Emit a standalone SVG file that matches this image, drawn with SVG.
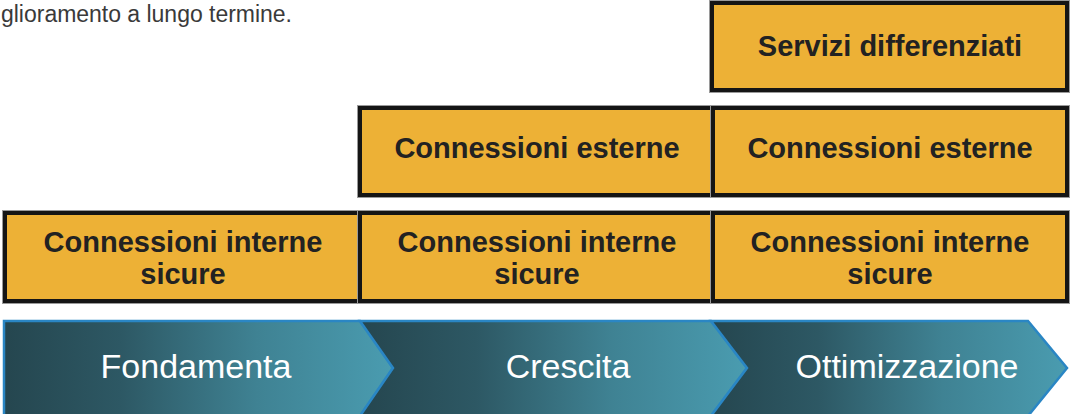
<svg xmlns="http://www.w3.org/2000/svg" width="1070" height="414" viewBox="0 0 1070 414">
  <defs>
    <linearGradient id="g1" x1="0" y1="0" x2="1" y2="0">
      <stop offset="0" stop-color="#25464f"/>
      <stop offset="0.3" stop-color="#2d5864"/>
      <stop offset="0.65" stop-color="#3f8293"/>
      <stop offset="1" stop-color="#4a9cb0"/>
    </linearGradient>
    <style>
      .cell{fill:#edb136;stroke:#151515;stroke-width:4}
      .halo{fill:none;stroke:#9a9a9a;stroke-width:6}
      .lbl{font-family:"Liberation Sans",Arial,sans-serif;font-weight:bold;font-size:29px;fill:#222;text-anchor:middle}
      .chev{fill:url(#g1);stroke:#2a86c4;stroke-width:2.5;stroke-linejoin:miter}
      .phase{font-family:"Liberation Sans",Arial,sans-serif;font-size:34px;fill:#fff;text-anchor:middle}
      .note{font-family:"Liberation Sans",Arial,sans-serif;font-size:23px;fill:#3a3a3a}
    </style>
  </defs>
  <rect width="1070" height="414" fill="#fff"/>
  <text class="note" x="1" y="22" textLength="291" lengthAdjust="spacing">glioramento a lungo termine.</text>

  <g id="row1-servizi">
    <rect class="halo" x="712" y="3" width="355" height="87"/>
    <rect class="cell" x="712" y="3" width="355" height="87"/>
    <text class="lbl" x="890" y="56">Servizi differenziati</text>
  </g>

  <g id="row2-esterne-1">
    <rect class="halo" x="360" y="108" width="353" height="87"/>
    <rect class="cell" x="360" y="108" width="353" height="87"/>
    <text class="lbl" x="537" y="158">Connessioni esterne</text>
  </g>
  <g id="row2-esterne-2">
    <rect class="halo" x="713" y="108" width="354" height="87"/>
    <rect class="cell" x="713" y="108" width="354" height="87"/>
    <text class="lbl" x="890" y="158">Connessioni esterne</text>
  </g>

  <g id="row3-interne-1">
    <rect class="halo" x="5" y="213" width="355" height="88"/>
    <rect class="cell" x="5" y="213" width="355" height="88"/>
    <text class="lbl" x="183" y="252">Connessioni interne</text>
    <text class="lbl" x="183" y="284">sicure</text>
  </g>
  <g id="row3-interne-2">
    <rect class="halo" x="360" y="213" width="353" height="88"/>
    <rect class="cell" x="360" y="213" width="353" height="88"/>
    <text class="lbl" x="537" y="252">Connessioni interne</text>
    <text class="lbl" x="537" y="284">sicure</text>
  </g>
  <g id="row3-interne-3">
    <rect class="halo" x="713" y="213" width="354" height="88"/>
    <rect class="cell" x="713" y="213" width="354" height="88"/>
    <text class="lbl" x="890" y="252">Connessioni interne</text>
    <text class="lbl" x="890" y="284">sicure</text>
  </g>

  <g id="phase-fondamenta">
    <path class="chev" d="M4,321 L360,321 L393,368 L360,416 L4,416 Z"/>
    <text class="phase" x="196" y="378">Fondamenta</text>
  </g>
  <g id="phase-crescita">
    <path class="chev" d="M360,321 L711,321 L747,368 L711,416 L360,416 L393,368 Z"/>
    <text class="phase" x="568" y="378">Crescita</text>
  </g>
  <g id="phase-ottimizzazione">
    <path class="chev" d="M711,321 L1028,321 L1067,368 L1028,416 L711,416 L747,368 Z"/>
    <text class="phase" x="907" y="378">Ottimizzazione</text>
  </g>
  <g id="connectors"/>
</svg>
